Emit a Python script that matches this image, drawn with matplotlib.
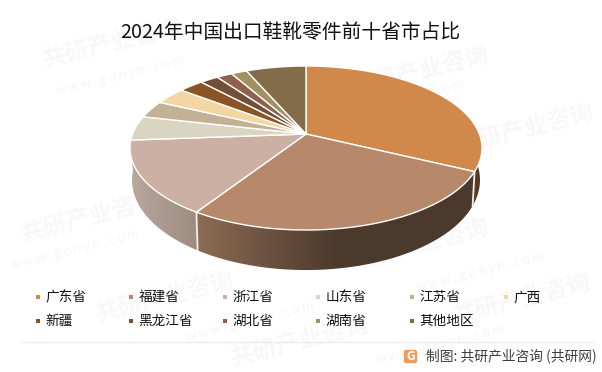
import numpy as np
import matplotlib
matplotlib.use("Agg")
import matplotlib.pyplot as plt
from matplotlib.colors import LinearSegmentedColormap
from matplotlib.patches import Polygon, FancyBboxPatch

plt.rcParams['font.family'] = ['Noto Sans CJK SC', 'DejaVu Sans']

title = "2024年中国出口鞋靴零件前十省市占比"
footer = "制图: 共研产业咨询 (共研网)"
provinces = ["广东省", "福建省", "浙江省", "山东省", "江苏省", "广西",
             "新疆", "黑龙江省", "湖北省", "湖南省", "其他地区"]
shares = [32.2, 26.9, 14.7, 4.8, 3.4, 3.4, 2.7, 2.0, 1.7, 1.7, 6.5]
colors = ["#D0894B", "#B8886B", "#CCB0A4", "#DAD5C3", "#C3B195", "#F4D6A2",
          "#8A5525", "#724F37", "#8E614C", "#A2905F", "#836C49"]

# walls that can be seen: slice index -> gradient stops
wall_colors = {
    0: ["#6E4A2A", "#4A3322"],
    1: ["#8C6D54", "#6C5240", "#4C3A2D", "#4B392C", "#4B392C"],
    2: ["#BAA89E", "#9D8B80"],
}

wm_big = [(112, 44), (420, 72), (525, 130), (90, 218), (420, 245), (165, 298), (522, 300), (300, 342)]
wm_small = [(120, 76), (400, 100), (75, 250), (480, 272), (250, 322), (440, 345)]

fig = plt.figure(figsize=(6.02, 3.72), dpi=100)
ax = fig.add_axes([0, 0, 1, 1])

# perspective disc: top face and bottom face
def top_face(t):
    u, v = np.sin(t), -np.cos(t)
    w = 1 - 0.171 * v
    return 306 + 173.4 * u / w, 134 + 79.6 * v / w

def low_face(t):
    u, v = np.sin(t), -np.cos(t)
    w = 1 - 0.171 * v
    return 306 + 171.4 * u / w, 164.6 + 87.4 * v / w

for (x, y) in wm_big:
    ax.text(x, y, "共研产业咨询", fontsize=17, fontweight='bold', color='#f8f8f8',
            rotation=14, ha='center', va='center', zorder=0)
for (x, y) in wm_small:
    ax.text(x, y, "w w w . g o n y n . c o m", fontsize=9, color='#f6f6f6',
            rotation=14, ha='center', va='center', zorder=0)

edges = np.radians(np.cumsum([0] + shares) / sum(shares) * 360)

# side walls
for i, stops in wall_colors.items():
    t = np.linspace(edges[i], edges[i + 1], 120)
    t = t[(t > np.radians(76)) & (t < np.radians(283))]
    t = np.r_[max(edges[i], np.radians(76)), t, min(edges[i + 1], np.radians(283))]
    xt, yt = top_face(t)
    xl, yl = low_face(t)
    pts = np.c_[np.r_[xt, xl[::-1]], np.r_[yt, yl[::-1]]]
    poly = Polygon(pts, closed=True, fc='none', ec='none', transform=ax.transData)
    ax.add_patch(poly)
    cmap = LinearSegmentedColormap.from_list("wall%d" % i, stops)
    im = ax.imshow(np.linspace(0, 1, 256).reshape(1, -1), cmap=cmap, aspect='auto',
                   extent=(pts[:, 0].min(), pts[:, 0].max(), pts[:, 1].max(), pts[:, 1].min()),
                   zorder=2)
    im.set_clip_path(poly)

# white gaps on the wall
for i in [1, 2]:
    xt, yt = top_face(edges[i])
    xl, yl = low_face(edges[i])
    ax.plot([xt, xl], [yt, yl], color='#f2efec', lw=1.3, zorder=3)

# top face
for i in range(len(shares)):
    t = np.linspace(edges[i], edges[i + 1], 80)
    xt, yt = top_face(t)
    xs = np.r_[306, xt]
    ys = np.r_[134, yt]
    ax.add_patch(Polygon(np.c_[xs, ys], closed=True, fc=colors[i], ec='white', lw=1.0,
                         joinstyle='round', zorder=4))

ax.set_xlim(0, 602)
ax.set_ylim(372, 0)
ax.axis('off')

ax.text(290.5, 32, title, fontsize=14.2, color='#111111', ha='center', va='center', zorder=6)

# legend
for i in range(len(provinces)):
    col = i % 6
    row = i // 6
    lx = 37.5 + 93.6 * col
    ly = 297 + 24 * row
    ax.scatter([lx], [ly], s=11, marker='s', color=colors[i], lw=0, zorder=6)
    ax.text(lx + 7.5, ly, provinces[i], fontsize=9.8, color='#111111', ha='left', va='center', zorder=6)

ax.plot([21, 594], [341.5, 341.5], color='#ebebeb', lw=1, zorder=5)

# logo and credit
ax.add_patch(FancyBboxPatch((405, 351), 11, 11, boxstyle="round,pad=1.2,rounding_size=2.5",
                            fc='#F29A5C', ec='none', zorder=6))
ax.text(410.5, 356.5, "G", fontsize=9, fontweight='bold', color='white', ha='center', va='center', zorder=7)
ax.text(426, 355.5, footer, fontsize=9.9, color='#3c3c3c', ha='left', va='center', zorder=6)

fig.savefig("out.png", dpi=100)
